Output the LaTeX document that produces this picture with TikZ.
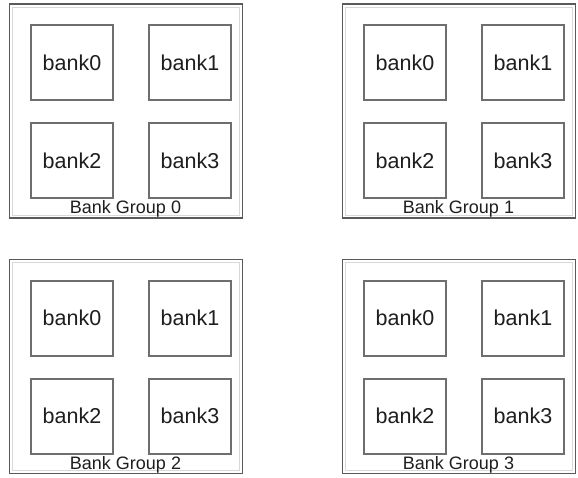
\documentclass[tikz,border=0pt]{standalone}
\usepackage{fontspec}
\setmainfont{Liberation Sans}
\definecolor{outerline}{HTML}{5A5A5A}
\definecolor{innerline}{HTML}{6E6E6E}
\definecolor{faintline}{HTML}{D8D8D8}
\definecolor{inkcol}{HTML}{1E1E1E}
\begin{document}
\begin{tikzpicture}[x=1pt,y=-1pt,
  bankbox/.style={draw=innerline,line width=2pt,fill=white,
    minimum width=82pt,minimum height=75pt,inner sep=0pt,anchor=north west,
    font=\fontsize{21.5}{25}\selectfont,text=inkcol},
  grouplabel/.style={anchor=base,inner sep=0pt,
    font=\fontsize{18}{22}\selectfont,text=inkcol}]
  \useasboundingbox (0,0) rectangle (578,477);

  % one bank group: #1 = index, (#2,#3) = top-left corner of the frame
  \newcommand{\bankgroup}[3]{%
    \coordinate (g#1nw) at (#2,#3);
    \coordinate (g#1se) at (#2+233,#3+214);
    \draw[draw=outerline,line width=1.1pt] (g#1nw) rectangle (g#1se);
    \draw[draw=faintline,line width=0.8pt] (#2+3,#3+3) rectangle (#2+230,#3+211);
    \node[bankbox] (g#1b0) at (#2+20.5,#3+20)  {bank0};
    \node[bankbox] (g#1b1) at (#2+138.5,#3+20) {bank1};
    \node[bankbox] (g#1b2) at (#2+20.5,#3+118) {bank2};
    \node[bankbox] (g#1b3) at (#2+138.5,#3+118) {bank3};
    \node[grouplabel] (g#1lab) at (#2+116,#3+209.5) {Bank Group #1};
  }

  \bankgroup{0}{9.5}{4}
  \bankgroup{1}{342.5}{4}
  \bankgroup{2}{9.5}{259.5}
  \bankgroup{3}{342.5}{259.5}
\end{tikzpicture}
\end{document}
